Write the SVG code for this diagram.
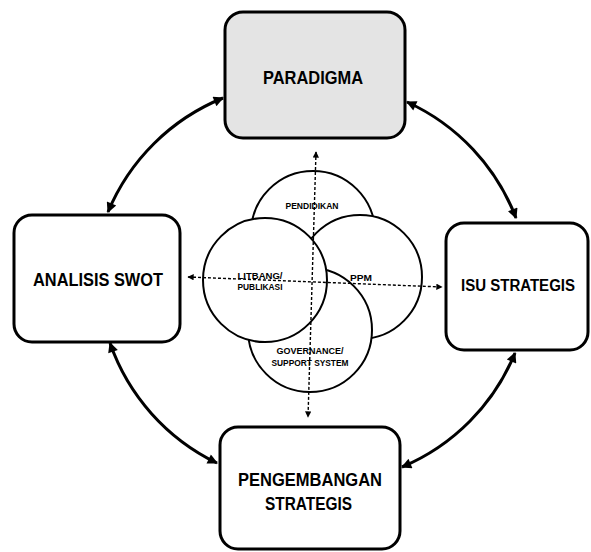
<svg xmlns="http://www.w3.org/2000/svg" width="591" height="552" viewBox="0 0 591 552">
  <defs>
    <style>
      .box { stroke: #000; stroke-width: 3; fill: #fff; }
      .shaded { fill: #e4e4e4; }
      .big { font-family: "Liberation Sans", Arial, sans-serif; font-weight: bold; font-size: 18px; fill: #000; text-anchor: middle; }
      .small { font-family: "Liberation Sans", Arial, sans-serif; font-weight: bold; font-size: 8.5px; fill: #000; text-anchor: middle; }
      .ring { fill: #fff; stroke: #000; stroke-width: 2; }
      .cycle { fill: none; stroke: #000; stroke-width: 3; marker-start: url(#head); marker-end: url(#head); }
      .axis { fill: none; stroke: #000; stroke-width: 1.4; stroke-dasharray: 3 2; marker-start: url(#tip); marker-end: url(#tip); }
    </style>
    <marker id="head" viewBox="0 0 10 10" refX="9" refY="5" markerWidth="4.2" markerHeight="3.4" orient="auto-start-reverse" markerUnits="strokeWidth">
      <path d="M0,0 L10,5 L0,10 z" fill="#000"/>
    </marker>
    <marker id="tip" viewBox="0 0 10 10" refX="9" refY="5" markerWidth="4.5" markerHeight="4.5" orient="auto-start-reverse" markerUnits="strokeWidth">
      <path d="M0,0 L10,5 L0,10 z" fill="#000"/>
    </marker>
  </defs>

  <!-- outer nodes -->
  <g id="paradigma">
    <rect class="box shaded" x="225" y="12" width="180" height="126" rx="18"/>
    <text class="big" x="313" y="84" textLength="100" lengthAdjust="spacingAndGlyphs">PARADIGMA</text>
  </g>
  <g id="analisis-swot">
    <rect class="box" x="14" y="215" width="166" height="127" rx="18"/>
    <text class="big" x="98" y="286" textLength="130" lengthAdjust="spacingAndGlyphs">ANALISIS SWOT</text>
  </g>
  <g id="isu-strategis">
    <rect class="box" x="446" y="223" width="142" height="127" rx="18"/>
    <text class="big" x="518" y="291" style="font-size:16px" textLength="114" lengthAdjust="spacingAndGlyphs">ISU STRATEGIS</text>
  </g>
  <g id="pengembangan-strategis">
    <rect class="box" x="220" y="427" width="180" height="122" rx="18"/>
    <text class="big" x="310" y="486" textLength="144" lengthAdjust="spacingAndGlyphs">PENGEMBANGAN</text>
    <text class="big" x="308.5" y="510" textLength="87" lengthAdjust="spacingAndGlyphs">STRATEGIS</text>
  </g>

  <!-- central overlapping circles -->
  <g id="pendidikan">
    <circle class="ring" cx="313" cy="233" r="62"/>
  </g>
  <g id="ppm">
    <circle class="ring" cx="360" cy="277" r="62"/>
  </g>
  <g id="governance">
    <circle class="ring" cx="310" cy="330" r="62"/>
  </g>
  <g id="litbang">
    <circle class="ring" cx="265" cy="280" r="62"/>
  </g>
  <g id="circle-labels">
    <text class="small" x="312" y="209" textLength="53" lengthAdjust="spacingAndGlyphs">PENDIDIKAN</text>
    <text class="small" x="260" y="279" textLength="45" lengthAdjust="spacingAndGlyphs">LITBANG/</text>
    <text class="small" x="260" y="290" textLength="45" lengthAdjust="spacingAndGlyphs">PUBLIKASI</text>
    <text class="small" x="361" y="281" textLength="22" lengthAdjust="spacingAndGlyphs">PPM</text>
    <text class="small" x="310" y="354" textLength="67" lengthAdjust="spacingAndGlyphs">GOVERNANCE/</text>
    <text class="small" x="310" y="366" textLength="77" lengthAdjust="spacingAndGlyphs">SUPPORT SYSTEM</text>
  </g>

  <!-- connectors -->
  <g id="connectors">
    <path class="cycle" d="M223,98 A210,210 0 0 0 108,212"/>
    <path class="cycle" d="M407,102 A210,210 0 0 1 516,218"/>
    <path class="cycle" d="M110,343 A210,210 0 0 0 217,463"/>
    <path class="cycle" d="M515,353 A210,210 0 0 1 402,467"/>
    <path class="axis" d="M316,152 L308,417"/>
    <path class="axis" d="M188,277 L442,287"/>
  </g>
</svg>
